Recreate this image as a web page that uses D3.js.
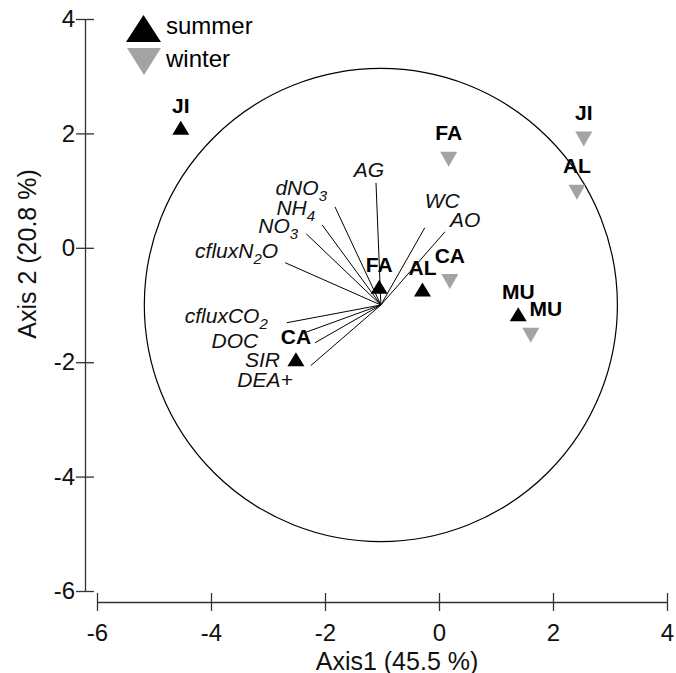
<!DOCTYPE html>
<html>
<head>
<meta charset="utf-8">
<script src="https://cdn.jsdelivr.net/npm/d3@7"></script>
<style>
  body { margin: 0; background: #fff; }
  svg { display: block; font-family: "Liberation Sans", Arial, Helvetica, sans-serif; }
</style>
</head>
<body>
<div id="graph"></div>
<script>
// sites (same order in both seasons)
const sites = ['JI', 'FA', 'AL', 'CA', 'MU'];
const summerX = [-4.53, -1.05, -0.29, -2.51, 1.39];
const summerY = [2.10, -0.68, -0.73, -1.95, -1.16];
const winterX = [2.54, 0.17, 2.42, 0.19, 1.61];
const winterY = [1.90, 1.55, 0.97, -0.59, -1.53];

// variable vectors (end points, axis units)
const vars = ['AG', 'dNO3', 'NH4', 'NO3', 'cfluxN2O', 'cfluxCO2', 'DOC', 'SIR', 'DEA+', 'WC', 'AO'];
const varX = [-1.105, -1.825, -2.05, -2.33, -2.70, -2.67, -2.40, -2.175, -2.25, -0.25, 0.105];
const varY = [1.135, 0.716, 0.40, 0.245, -0.26, -1.31, -1.50, -1.66, -2.06, 0.35, 0.28];
const vecOrigin = [-1.02, -1.0];
const circleR = 4.15;

const ticks = [-6, -4, -2, 0, 2, 4];

const w = 676, h = 673;
const black = '#000', grey = '#a3a3a3', axisCol = '#333';

// label placement (pixel offsets from vector end)
const varLab = {
  'AG': ['middle', -7, -6], 'dNO3': ['end', -8, -12], 'NH4': ['end', -7, -10],
  'NO3': ['end', -8, -1], 'cfluxN2O': ['end', -7, -5], 'cfluxCO2': ['end', -19, 0],
  'DOC': ['end', -44, 14], 'SIR': ['end', -35, 24], 'DEA+': ['end', -18, 21],
  'WC': ['start', 0, -20], 'AO': ['start', 5, -5]
};

const svg = d3.select('#graph').append('svg').attr('width', w).attr('height', h);

const x = d3.scaleLinear().domain([-6, 4]).range([97, 667]);
const y = d3.scaleLinear().domain([-6, 4]).range([591, 19]);

// axes (plain hyphen for negatives, ticks crossing the line)
const fmt = d => String(d);
const yAxis = svg.append('g').attr('transform', 'translate(85,0)')
  .call(d3.axisLeft(y).tickValues(ticks).tickFormat(fmt).tickSize(9).tickSizeOuter(0).tickPadding(1));
yAxis.selectAll('.tick line').attr('x1', 9);
const xAxis = svg.append('g').attr('transform', 'translate(0,602)')
  .call(d3.axisBottom(x).tickValues(ticks).tickFormat(fmt).tickSize(9).tickSizeOuter(0).tickPadding(13));
xAxis.selectAll('.tick line').attr('y1', -9);
svg.selectAll('.domain, .tick line').attr('stroke', axisCol).attr('stroke-width', 1.3);
svg.selectAll('.tick text').attr('font-size', 24).attr('fill', '#111')
  .attr('font-family', '"Liberation Sans", Arial, sans-serif');

svg.append('text').attr('x', 397).attr('y', 670).attr('text-anchor', 'middle')
  .attr('font-size', 25).attr('fill', '#111').text('Axis1 (45.5 %)');
svg.append('text').attr('transform', 'translate(36,254) rotate(-90)').attr('text-anchor', 'middle')
  .attr('font-size', 25).attr('fill', '#111').text('Axis 2 (20.8 %)');

// circle
const ox = x(vecOrigin[0]), oy = y(vecOrigin[1]);
svg.append('circle').attr('cx', ox).attr('cy', oy)
  .attr('r', x(vecOrigin[0] + circleR) - ox)
  .attr('fill', 'none').attr('stroke', black).attr('stroke-width', 1.2);

// vectors
const vecData = vars.map((v, i) => ({ name: v, x: varX[i], y: varY[i] }));
svg.selectAll('line.vec').data(vecData).enter().append('line').attr('class', 'vec')
  .attr('x1', ox).attr('y1', oy)
  .attr('x2', d => x(d.x)).attr('y2', d => y(d.y))
  .attr('stroke', black).attr('stroke-width', 1);

const subs = { 'dNO3': ['dNO', '3', ''], 'NH4': ['NH', '4', ''], 'NO3': ['NO', '3', ''],
  'cfluxN2O': ['cfluxN', '2', 'O'], 'cfluxCO2': ['cfluxCO', '2', ''] };
vecData.forEach(d => {
  const lab = varLab[d.name];
  const t = svg.append('text')
    .attr('x', x(d.x) + lab[1]).attr('y', y(d.y) + lab[2])
    .attr('text-anchor', lab[0]).attr('font-size', 21).attr('font-style', 'italic').attr('fill', '#111');
  if (subs[d.name]) {
    const s = subs[d.name];
    t.append('tspan').text(s[0]);
    t.append('tspan').attr('font-size', 15).attr('dy', 6).text(s[1]);
    if (s[2]) t.append('tspan').attr('dy', -6).text(s[2]);
  } else {
    t.text(d.name);
  }
});

// triangles
function tri(cx, cy, tw, th, up) {
  const s = up ? 1 : -1;
  return `M${cx},${cy - s * th / 2}L${cx + tw / 2},${cy + s * th / 2}L${cx - tw / 2},${cy + s * th / 2}Z`;
}

const summer = sites.map((s, i) => ({ site: s, x: summerX[i], y: summerY[i] }));
const winter = sites.map((s, i) => ({ site: s, x: winterX[i], y: winterY[i] }));

svg.selectAll('path.win').data(winter).enter().append('path').attr('class', 'win')
  .attr('d', d => tri(x(d.x), y(d.y), 17, 15, false)).attr('fill', grey);
svg.selectAll('path.sum').data(summer).enter().append('path').attr('class', 'sum')
  .attr('d', d => tri(x(d.x), y(d.y), 17, 14, true)).attr('fill', black);

svg.selectAll('text.sumlab').data(summer).enter().append('text').attr('class', 'sumlab')
  .attr('x', d => x(d.x)).attr('y', d => y(d.y) - 15)
  .attr('text-anchor', 'middle').attr('font-size', 21).attr('font-weight', 'bold')
  .text(d => d.site);
svg.selectAll('text.winlab').data(winter).enter().append('text').attr('class', 'winlab')
  .attr('x', d => x(d.x) + (d.site === 'MU' ? 15 : 0)).attr('y', d => y(d.y) - 19)
  .attr('text-anchor', 'middle').attr('font-size', 21).attr('font-weight', 'bold')
  .text(d => d.site);

// legend
const legend = svg.append('g');
legend.append('path').attr('d', tri(143.5, 28.5, 35, 27, true)).attr('fill', black);
legend.append('path').attr('d', tri(144, 61.5, 34, 27, false)).attr('fill', grey);
legend.append('text').attr('x', 166).attr('y', 34).attr('font-size', 24).text('summer');
legend.append('text').attr('x', 166).attr('y', 67).attr('font-size', 24).text('winter');
</script>
</body>
</html>
